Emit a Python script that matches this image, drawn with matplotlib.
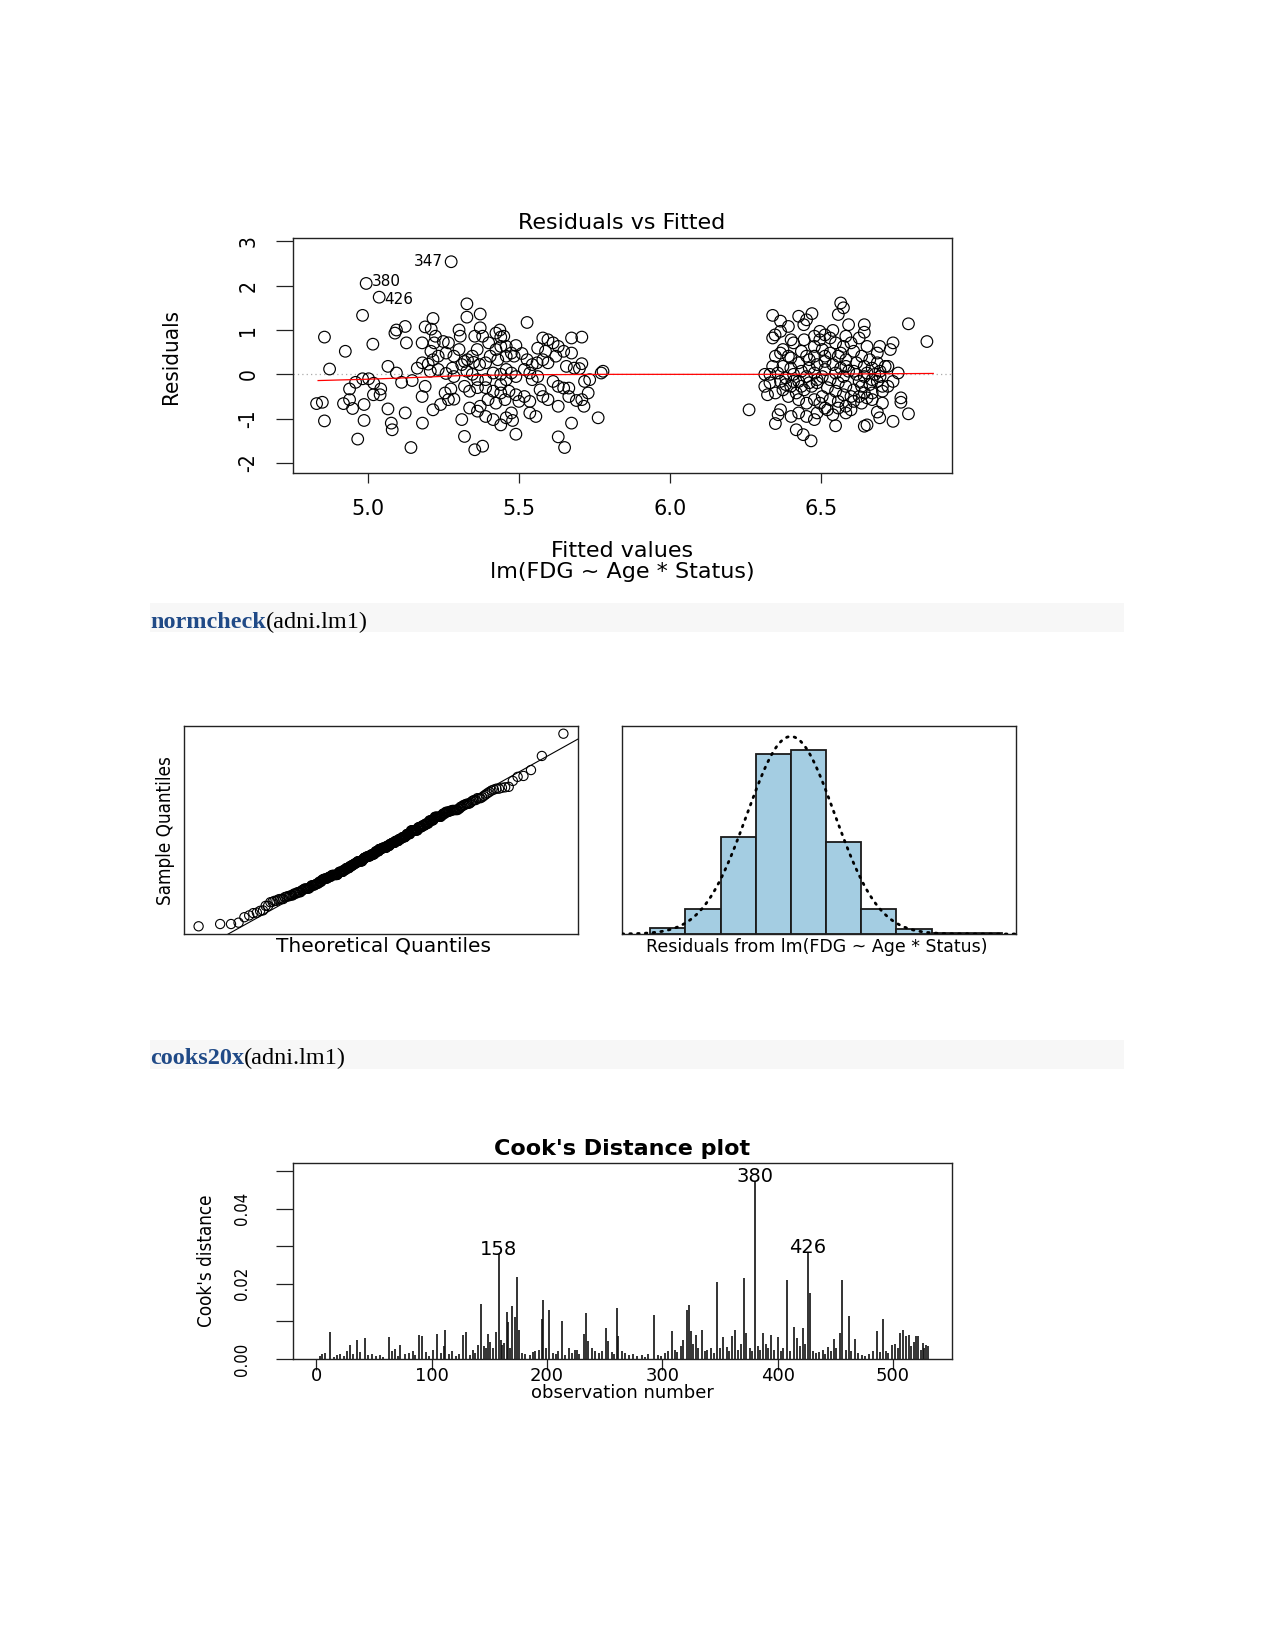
import matplotlib
matplotlib.use("Agg")
import matplotlib.pyplot as plt
import numpy as np
from statistics import NormalDist
from matplotlib.patches import Rectangle
from matplotlib import font_manager as fm

# ---------------- data ----------------
# Residuals vs Fitted (fitted value, residual)
resid_points = [
    (5.276, 2.54), (4.995, 2.05), (5.038, 1.74),
    (4.983, 1.33), (4.857, 0.84), (4.874, 0.12), (4.926, 0.52), (5.017, 0.68), (4.831, -0.66), (4.85, -0.63),
    (4.857, -1.05), (4.92, -0.66), (4.94, -0.57), (4.95, -0.77), (4.967, -1.46), (4.988, -0.68), (4.988, -1.04),
    (4.94, -0.33), (4.96, -0.18), (4.983, -0.10), (5.003, -0.10), (5.02, -0.2), (5.043, -0.33), (5.041, -0.46),
    (5.019, -0.46), (5.067, 0.18), (5.09, 0.93), (5.095, 1.0), (5.124, 1.08), (5.067, -0.78), (5.078, -1.10),
    (5.081, -1.25), (5.124, -0.87), (5.143, -1.65), (5.181, -1.10), (5.128, 0.71), (5.095, 0.03), (5.112, -0.18),
    (5.147, -0.14), (5.164, 0.14), (5.181, 0.26), (5.19, -0.27), (5.18, -0.5), (5.2, 0.23), (5.18, 0.71),
    (5.19, 1.07), (5.21, 1.02), (5.216, 1.26), (5.209, 0.52), (5.22, 0.71), (5.233, 0.41), (5.25, 0.74),
    (5.267, 0.71), (5.256, -0.42), (5.259, 0.02), (5.285, -0.05), (5.275, -0.33), (5.216, -0.8), (5.241, -0.68),
    (5.267, -0.57), (5.285, -0.56), (5.32, -1.40), (5.354, -1.70), (5.38, -1.62), (5.311, -1.02), (5.302, 1.0),
    (5.306, 0.86), (5.328, 1.59), (5.328, 1.29), (5.372, 1.36), (5.372, 1.05), (5.346, 0.41), (5.32, 0.29),
    (5.33, 0.33), (5.35, 0.27), (5.37, 0.22), (5.39, 0.26), (5.362, 0.56), (5.38, 0.86), (5.4, 0.71),
    (5.424, 0.56), (5.437, 1.0), (5.45, 0.86), (5.44, 0.84), (5.458, 0.63), (5.405, 0.41), (5.43, 0.33),
    (5.458, 0.41), (5.475, 0.48), (5.49, 0.65), (5.51, 0.47), (5.527, 1.17), (5.527, 0.33), (5.544, 0.22),
    (5.56, 0.26), (5.579, 0.82), (5.596, 0.78), (5.613, 0.71), (5.63, 0.63), (5.648, 0.52), (5.674, 0.82),
    (5.708, 0.84), (5.674, 0.48), (5.708, 0.24), (5.7, 0.13), (5.734, -0.12), (5.778, 0.07), (5.772, 0.03),
    (5.762, -0.98), (5.708, -0.57), (5.715, -0.72), (5.69, -0.59), (5.665, -0.31), (5.648, -0.31), (5.63, -0.27),
    (5.613, -0.16), (5.63, -0.72), (5.674, -1.10), (5.63, -1.41), (5.651, -1.65), (5.57, -0.35), (5.544, -0.12),
    (5.562, -0.05), (5.536, 0.03), (5.518, 0.11), (5.49, -0.05), (5.475, 0.03), (5.458, 0.11), (5.44, 0.0),
    (5.415, 0.03), (5.39, -0.12), (5.363, -0.12), (5.346, 0.0), (5.32, -0.27), (5.337, -0.38), (5.363, -0.3),
    (5.39, -0.3), (5.415, -0.38), (5.44, -0.42), (5.467, -0.38), (5.49, -0.46), (5.518, -0.5), (5.536, -0.61),
    (5.5, -0.61), (5.475, -0.87), (5.458, -0.98), (5.479, -1.04), (5.49, -1.35), (5.44, -1.14), (5.415, -1.02),
    (5.39, -0.95), (5.363, -0.83), (5.337, -0.76), (5.372, -0.72), (5.398, -0.57), (5.424, -0.65), (5.454, -0.57),
    (5.556, -0.95), (5.536, -0.87), (5.579, -0.5), (5.596, -0.57), (5.458, -0.12), (5.44, -0.23), (5.259, 0.48),
    (5.285, 0.41), (5.233, 0.11), (5.207, 0.07), (5.302, 0.56), (5.311, 0.22), (5.28, 0.14), (5.328, 0.07),
    (5.354, 0.86), (5.424, 0.93), (5.44, 0.63), (5.484, 0.41), (5.562, 0.59), (5.588, 0.52), (5.622, 0.41),
    (5.596, 0.26), (5.579, 0.33), (5.657, 0.18), (5.683, 0.14), (5.717, -0.16), (5.729, -0.42), (5.665, -0.5),
    (5.216, 0.33), (5.224, 0.86),
    (6.261, -0.8), (6.339, 1.33), (6.365, 1.2), (6.391, 1.08), (6.347, 0.89), (6.339, 0.82), (6.4, 0.78),
    (6.365, 0.97), (6.425, 1.31), (6.451, 1.23), (6.469, 1.37), (6.442, 1.12), (6.564, 1.61), (6.573, 1.5),
    (6.556, 1.35), (6.59, 1.12), (6.642, 1.12), (6.642, 0.95), (6.788, 1.14), (6.849, 0.74), (6.693, 0.63),
    (6.737, 0.71), (6.728, 0.56), (6.685, 0.48), (6.763, -0.63), (6.788, -0.89), (6.737, -1.06), (6.693, -0.98),
    (6.685, -0.85), (6.651, -1.14), (6.642, -1.17), (6.547, -1.16), (6.348, -1.11), (6.417, -1.25), (6.44, -1.36),
    (6.466, -1.5), (6.365, -0.8), (6.357, -0.91), (6.4, -0.95), (6.425, -0.87), (6.451, -0.95), (6.486, -0.87),
    (6.52, -0.8), (6.556, -0.76), (6.598, -0.8), (6.607, -0.61), (6.633, -0.65), (6.668, -0.57), (6.702, -0.65),
    (6.651, -0.53), (6.668, -0.42), (6.702, -0.27), (6.72, -0.27), (6.313, -0.27), (6.322, -0.46), (6.33, 0.0),
    (6.313, 0.0), (6.339, 0.18), (6.348, 0.41), (6.365, 0.48), (6.391, 0.41), (6.408, 0.71), (6.434, 0.52),
    (6.443, 0.78), (6.477, 0.86), (6.495, 0.78), (6.512, 0.89), (6.529, 0.82), (6.547, 0.71), (6.573, 0.63),
    (6.598, 0.71), (6.581, 0.86), (6.538, 0.99), (6.495, 0.97), (6.607, 0.52), (6.633, 0.41), (6.66, 0.33),
    (6.685, 0.26), (6.711, 0.18), (6.668, 0.14), (6.642, 0.18), (6.616, 0.26), (6.581, 0.33), (6.556, 0.41),
    (6.529, 0.48), (6.503, 0.56), (6.477, 0.63), (6.451, 0.41), (6.425, 0.26), (6.399, 0.14), (6.373, 0.18),
    (6.356, 0.03), (6.382, -0.08), (6.408, 0.0), (6.434, 0.07), (6.46, 0.14), (6.486, 0.22), (6.512, 0.29),
    (6.538, 0.22), (6.564, 0.14), (6.59, 0.07), (6.616, 0.0), (6.642, -0.05), (6.668, -0.12), (6.694, -0.05),
    (6.694, 0.07), (6.66, -0.23), (6.633, -0.27), (6.607, -0.35), (6.581, -0.27), (6.556, -0.19), (6.529, -0.12),
    (6.503, -0.05), (6.477, 0.03), (6.451, -0.05), (6.425, -0.16), (6.399, -0.27), (6.373, -0.35), (6.348, -0.42),
    (6.391, -0.5), (6.417, -0.42), (6.443, -0.35), (6.468, -0.27), (6.486, -0.19), (6.52, -0.3), (6.547, -0.38),
    (6.573, -0.46), (6.598, -0.5), (6.529, -0.57), (6.503, -0.5), (6.477, -0.57), (6.451, -0.65), (6.425, -0.57),
    (6.556, -0.61), (6.581, -0.72), (6.495, -0.65), (6.512, -0.76), (6.538, -0.91), (6.581, -0.87), (6.477, -1.02),
    (6.737, -0.16), (6.754, 0.03), (6.72, 0.18), (6.763, -0.53), (6.651, 0.63), (6.625, 0.82), (6.46, 0.33),
    (6.399, 0.37), (6.373, 0.56), (6.477, 0.41), (6.512, 0.41), (6.564, 0.48), (6.607, 0.07), (6.573, -0.05),
    (6.547, 0.03), (6.512, 0.11), (6.486, -0.12), (6.46, -0.19), (6.434, -0.27), (6.408, -0.16), (6.382, -0.23),
    (6.365, -0.16), (6.33, -0.19), (6.581, 0.18), (6.625, -0.16), (6.651, 0.03), (6.677, 0.0), (6.685, -0.16),
    (6.702, -0.38), (6.625, -0.5), (6.642, -0.42),
]
fitted = [p[0] for p in resid_points]
resid = [p[1] for p in resid_points]

outlier_labels = ["347", "380", "426"]          # first three points
outlier_side = ["left", "right", "right"]

smooth_x = [4.836, 5.0, 5.2, 5.3, 5.5, 5.78, 6.3, 6.5, 6.87]
smooth_y = [-0.14, -0.11, -0.06, -0.03, -0.01, 0.0, 0.0, 0.005, 0.02]

res_xticks = [5.0, 5.5, 6.0, 6.5]
res_yticks = [-2, -1, 0, 1, 2, 3]

# Histogram of residuals
hist_edges = [-2.0, -1.5, -1.0, -0.5, 0.0, 0.5, 1.0, 1.5, 2.0, 2.5, 3.0]
hist_counts = [5, 22, 84, 156, 159, 80, 22, 4, 1, 1]
norm_mean = 0.0
norm_sd = 0.623

# Cook's distance (observation, value)
cook_major = [
    (12, 0.0072), (29, 0.0038), (35, 0.0050), (42, 0.0056), (63, 0.0059), (68, 0.0027), (73, 0.0038),
    (89, 0.0063), (92, 0.0062), (105, 0.0067), (111, 0.0035), (112, 0.0076), (127, 0.0065), (130, 0.0071),
    (140, 0.0038), (143, 0.0146), (149, 0.0067), (156, 0.0072), (158, 0.0278), (161, 0.0038), (165, 0.0124),
    (166, 0.0098), (170, 0.0140), (172, 0.0112), (174, 0.0217), (176, 0.0078), (193, 0.0025), (196, 0.0107),
    (197, 0.0156), (202, 0.0131), (213, 0.0100), (219, 0.0029), (226, 0.0025), (232, 0.0067), (234, 0.0122),
    (236, 0.0047), (251, 0.0083), (253, 0.0047), (261, 0.0136), (262, 0.0062), (293, 0.0118), (308, 0.0074),
    (316, 0.0034), (321, 0.0131), (323, 0.0143), (325, 0.0074), (329, 0.0065), (334, 0.0078), (347, 0.0204),
    (353, 0.0059), (360, 0.0062), (363, 0.0078), (371, 0.0214), (373, 0.0069), (380, 0.0473), (387, 0.0069),
    (394, 0.0065), (400, 0.0059), (408, 0.0211), (414, 0.0084), (417, 0.0056), (422, 0.0083), (426, 0.0284),
    (428, 0.0176), (436, 0.0018), (444, 0.0032), (449, 0.0053), (454, 0.0069), (456, 0.0211), (462, 0.0115),
    (467, 0.0053), (483, 0.0020), (486, 0.0074), (491, 0.0105), (499, 0.0038), (506, 0.0069), (509, 0.0078),
    (511, 0.0060), (514, 0.0065), (520, 0.0062), (522, 0.0060), (526, 0.0043), (529, 0.0038), (530, 0.0034),
]
cook_minor = [
    (3, 0.0008), (5, 0.0012), (8, 0.0015), (15, 0.0006), (18, 0.0010), (21, 0.0014), (24, 0.0009), (27, 0.0020),
    (32, 0.0012), (38, 0.0018), (45, 0.0010), (48, 0.0013), (52, 0.0008), (55, 0.0011), (58, 0.0006), (66, 0.0020),
    (71, 0.0009), (77, 0.0012), (80, 0.0015), (84, 0.0022), (86, 0.0010), (95, 0.0018), (98, 0.0008), (101, 0.0025),
    (108, 0.0016), (115, 0.0012), (118, 0.0020), (121, 0.0009), (124, 0.0014), (133, 0.0011), (136, 0.0024),
    (138, 0.0015), (145, 0.0035), (147, 0.0028), (151, 0.0045), (153, 0.0030), (160, 0.0050), (163, 0.0042),
    (168, 0.0030), (178, 0.0015), (181, 0.0012), (185, 0.0010), (188, 0.0018), (190, 0.0022), (199, 0.0030),
    (205, 0.0015), (208, 0.0012), (210, 0.0020), (216, 0.0010), (222, 0.0017), (224, 0.0024), (228, 0.0012),
    (239, 0.0030), (242, 0.0020), (245, 0.0015), (248, 0.0022), (256, 0.0018), (258, 0.0012), (265, 0.0020),
    (268, 0.0015), (271, 0.0010), (275, 0.0012), (278, 0.0008), (282, 0.0010), (285, 0.0006), (288, 0.0012),
    (296, 0.0010), (299, 0.0008), (302, 0.0015), (305, 0.0020), (311, 0.0025), (313, 0.0018), (318, 0.0050),
    (327, 0.0040), (331, 0.0030), (337, 0.0020), (339, 0.0025), (342, 0.0030), (345, 0.0015), (350, 0.0028),
    (356, 0.0032), (358, 0.0020), (366, 0.0025), (368, 0.0040), (376, 0.0030), (378, 0.0020), (383, 0.0035),
    (385, 0.0025), (390, 0.0040), (392, 0.0030), (397, 0.0025), (403, 0.0020), (405, 0.0030), (411, 0.0022),
    (419, 0.0035), (424, 0.0040), (431, 0.0020), (433, 0.0015), (439, 0.0025), (441, 0.0012), (446, 0.0020),
    (451, 0.0030), (459, 0.0025), (464, 0.0020), (470, 0.0015), (473, 0.0010), (476, 0.0008), (479, 0.0012),
    (489, 0.0018), (494, 0.0022), (496, 0.0015), (502, 0.0040), (504, 0.0030), (516, 0.0035), (518, 0.0045),
    (524, 0.0025), (527, 0.0030),
]
cook_labels = [158, 380, 426]
cook_xticks = [0, 100, 200, 300, 400, 500]
cook_yticks = [0.00, 0.01, 0.02, 0.03, 0.04, 0.05]
cook_yticklabels = ["0.00", "", "0.02", "", "0.04", ""]
n_obs = 530

# ---------------- fonts ----------------
SANS = ["DejaVu Sans"]
SERIF = ["Liberation Serif", "DejaVu Serif"]
_fonts = fm.fontManager.ttflist
if any(f.name == "Liberation Sans Narrow" for f in _fonts):
    NARROW = dict(family=["Liberation Sans Narrow"])
elif any(f.name == "DejaVu Sans" and str(f.stretch) in ("condensed", "semi-condensed", "500", "400") and
         "Condensed" in f.fname for f in _fonts):
    NARROW = dict(family=["DejaVu Sans"], fontstretch="condensed")
else:
    NARROW = dict(family=["Liberation Sans", "DejaVu Sans"])

# ---------------- figure ----------------
W, H = 1275, 1651
fig = plt.figure(figsize=(W / 100, H / 100), dpi=100)
fig.patch.set_facecolor("white")
EDGE = "#222222"


def rect(l, t, r, b):
    return [l / W, 1 - b / H, (r - l) / W, (b - t) / H]


def fx(x):
    return x / W


def fy(y):
    return 1 - y / H


def style_box(ax):
    for s in ax.spines.values():
        s.set_color(EDGE)
        s.set_linewidth(1.0)


# ---------- Residuals vs Fitted ----------
ax1 = fig.add_axes(rect(293, 238, 952, 473))
style_box(ax1)
ax1.axhline(0, color="#aaaaaa", lw=0.9, ls=(0, (1, 2.5)), zorder=1)
ax1.scatter(fitted, resid, s=70, facecolors="none", edgecolors="black", linewidths=0.85, zorder=2)
ax1.plot(smooth_x, smooth_y, color="red", lw=0.9, zorder=3)
label_dy = [0, 1.5, -1.5]
for i, lab in enumerate(outlier_labels):
    if outlier_side[i] == "left":
        ax1.annotate(lab, (fitted[i], resid[i]), xytext=(-6, label_dy[i]), textcoords="offset points",
                     ha="right", va="center", fontsize=11, family=SANS)
    else:
        ax1.annotate(lab, (fitted[i], resid[i]), xytext=(4, label_dy[i]), textcoords="offset points",
                     ha="left", va="center", fontsize=11, family=SANS)
ax1.set_xlim(4.753, 6.932)
ax1.set_ylim(-2.225, 3.075)
ax1.set_xticks(res_xticks)
ax1.set_xticklabels([f"{v:.1f}" for v in res_xticks], fontsize=15, family=SANS)
ax1.set_yticks(res_yticks)
ax1.set_yticklabels([str(v) for v in res_yticks], rotation=90, va="center", fontsize=15, **NARROW)
ax1.tick_params(axis="x", length=7, width=0.9, pad=11.5, colors=EDGE, labelcolor="black")
ax1.tick_params(axis="y", length=12, width=0.9, pad=13, colors=EDGE, labelcolor="black")
fig.text(fx(622), fy(229), "Residuals vs Fitted", ha="center", va="baseline", fontsize=16, family=SANS)
fig.text(fx(622), fy(557), "Fitted values", ha="center", va="baseline", fontsize=16, family=SANS)
fig.text(fx(622), fy(578), "lm(FDG ~ Age * Status)", ha="center", va="baseline", fontsize=16, family=SANS)
fig.text(fx(171), fy(356), "Residuals", rotation=90, ha="center", va="center", fontsize=16, **NARROW)

# ---------- code lines ----------
renderer = fig.canvas.get_renderer()


def code_line(y_top, y_bot, y_base, func):
    fig.patches.append(Rectangle((fx(150), fy(y_bot)), (1124 - 150) / W, (y_bot - y_top) / H,
                                 transform=fig.transFigure, facecolor="#f7f7f7", edgecolor="none", zorder=0))
    t1 = fig.text(fx(150), fy(y_base), func, ha="left", va="baseline", fontsize=17.5,
                  family=SERIF, weight="bold", color="#204a87")
    bb = t1.get_window_extent(renderer=renderer)
    fig.text(bb.x1 / W, fy(y_base), "(adni.lm1)", ha="left", va="baseline", fontsize=17.5,
             family=SERIF, color="black")


code_line(603, 632, 628, "normcheck")

# ---------- QQ plot ----------
ax2 = fig.add_axes(rect(184, 726, 578, 934))
style_box(ax2)
sample = np.sort(np.array(resid))
n = len(sample)
nd = NormalDist()
theo = np.array([nd.inv_cdf((i - 0.5) / n) for i in range(1, n + 1)])
ax2.scatter(theo, sample, s=44, facecolors="none", edgecolors="black", linewidths=0.8)
q25s, q75s = np.percentile(sample, [25, 75])
z25, z75 = nd.inv_cdf(0.25), nd.inv_cdf(0.75)
slope = (q75s - q25s) / (z75 - z25)
intercept = q25s - slope * z25
xr = theo.max() - theo.min()
yr = sample.max() - sample.min()
xl = (theo.min() - 0.04 * xr, theo.max() + 0.04 * xr)
yl = (sample.min() - 0.04 * yr, sample.max() + 0.04 * yr)
xx = np.array([xl[0] - 1, xl[1] + 1])
ax2.plot(xx, intercept + slope * xx, color="black", lw=0.8)
ax2.set_xlim(*xl)
ax2.set_ylim(*yl)
ax2.set_xticks([])
ax2.set_yticks([])
fig.text(fx(383), fy(951), "Theoretical Quantiles", ha="center", va="baseline", fontsize=14.5, family=SANS)
fig.text(fx(165), fy(831), "Sample Quantiles", rotation=90, ha="center", va="center", fontsize=13.5, **NARROW)

# ---------- Histogram ----------
ax3 = fig.add_axes(rect(622, 726, 1016, 934))
style_box(ax3)
widths = np.diff(hist_edges)
ax3.bar(hist_edges[:-1], hist_counts, width=widths, align="edge", color="#a4cde2",
        edgecolor="#1a1a1a", linewidth=1.3, zorder=2)
xs = np.linspace(-2.4, 3.2, 400)
ntot = sum(hist_counts)
dens = np.array([NormalDist(norm_mean, norm_sd).pdf(v) for v in xs]) * ntot * widths[0]
ax3.plot(xs, dens, color="black", lw=2.0, ls=(0, (0.6, 2.2)), dash_capstyle="round", zorder=3)
ax3.set_xlim(-2.4, 3.2)
ax3.set_ylim(0, 180)
ax3.set_xticks([])
ax3.set_yticks([])
fig.text(fx(817), fy(952), "Residuals from lm(FDG ~ Age * Status)", ha="center", va="baseline",
         fontsize=12.5, family=SANS)

code_line(1040, 1069, 1064, "cooks20x")

# ---------- Cook's distance ----------
ax4 = fig.add_axes(rect(293, 1163, 952, 1359))
style_box(ax4)
obs_all = [p[0] for p in cook_minor] + [p[0] for p in cook_major]
val_all = [p[1] for p in cook_minor] + [p[1] for p in cook_major]
ax4.vlines(obs_all, 0, val_all, color="#111111", lw=1.2)
cook_dict = dict(cook_major)
for ob in cook_labels:
    ax4.text(ob, cook_dict[ob] + 0.0012, str(ob), ha="center", va="center", fontsize=14, family=SANS)
ax4.set_xlim(1 - 0.04 * (n_obs - 1), n_obs + 0.04 * (n_obs - 1))
ax4.set_ylim(0, 0.0521)
ax4.set_xticks(cook_xticks)
ax4.set_xticklabels([str(v) for v in cook_xticks], fontsize=13, family=SANS)
ax4.set_yticks(cook_yticks)
ax4.set_yticklabels(cook_yticklabels, rotation=90, va="center", fontsize=12, **NARROW)
ax4.tick_params(axis="x", length=8, width=0.9, pad=-2.5, colors=EDGE, labelcolor="black")
ax4.tick_params(axis="y", length=12, width=0.9, pad=18.5, colors=EDGE, labelcolor="black")
fig.text(fx(622), fy(1155), "Cook's Distance plot", ha="center", va="baseline", fontsize=16,
         family=SANS, weight="bold")
fig.text(fx(622), fy(1398), "observation number", ha="center", va="baseline", fontsize=13, family=SANS)
fig.text(fx(206), fy(1261), "Cook's distance", rotation=90, ha="center", va="center", fontsize=13.5, **NARROW)

fig.savefig("out.png", dpi=100, facecolor="white")
